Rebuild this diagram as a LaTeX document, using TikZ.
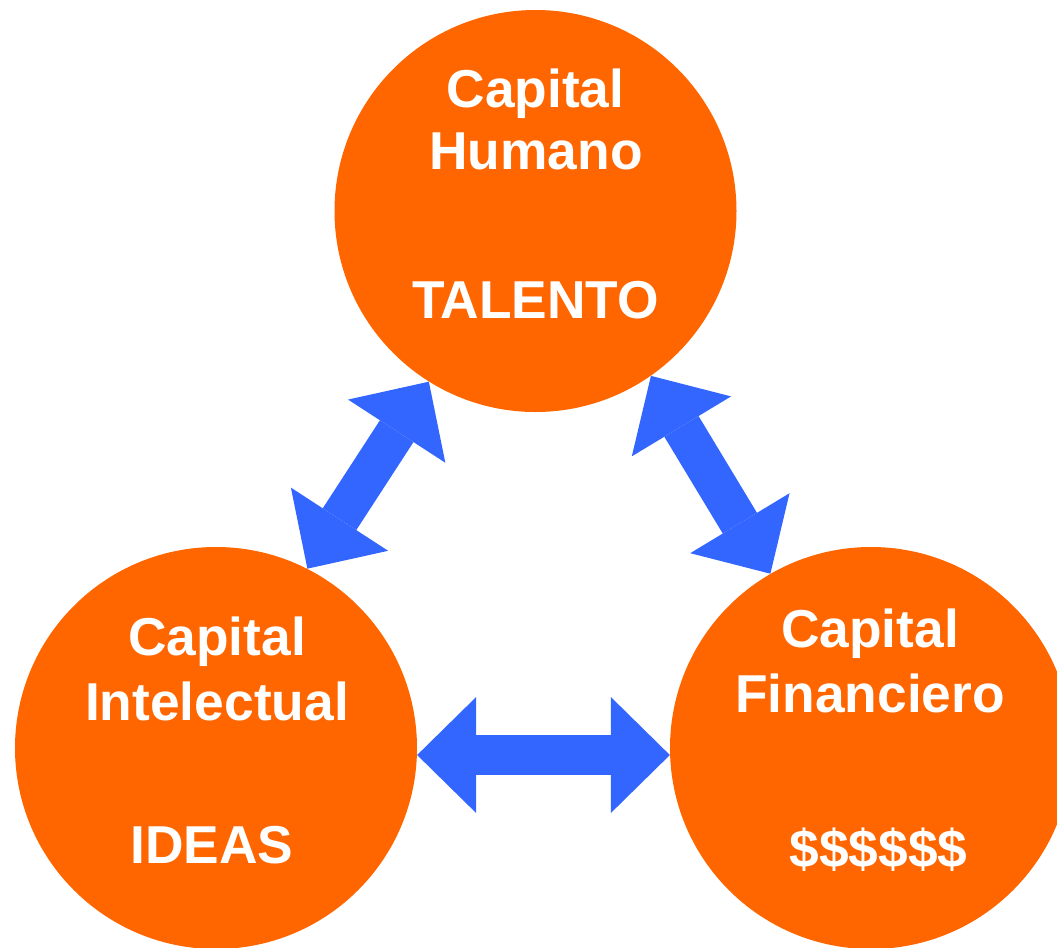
\documentclass[tikz,border=0pt]{standalone}
\usepackage{fontspec}
\setmainfont{Liberation Sans}
\usetikzlibrary{arrows.meta, positioning}
\definecolor{naranja}{RGB}{255,102,0}
\definecolor{azul}{RGB}{51,102,255}

\begin{document}
\begin{tikzpicture}[x=0.75pt, y=-0.75pt,
    capital/.style={circle, fill=naranja, inner sep=0pt, minimum size=301.5pt},
    texto/.style={anchor=base, text=white, font=\bfseries\fontsize{40}{48}\selectfont},
    flecha/.style={azul, line width=30pt, {Triangle[length=44.25pt, width=87pt, line width=0pt]}-{Triangle[length=44.25pt, width=87pt, line width=0pt]}}
]

\clip (0,0) rectangle (1057,947);

% los tres capitales
\node[capital] (humano) at (535.5,211) {};
\node[capital] (intelectual) at (216,748) {};
\node[capital] (financiero) at (871,748) {};

% textos (arriba)
\node[texto] (humano-1) at (535.5,107) {Capital};
\node[texto] (humano-2) at (536,169) {Humano};
\node[texto] (humano-3) at (535.5,318) {TALENTO};

% textos (izquierda)
\node[texto] (intelectual-1) at (217,655) {Capital};
\node[texto] (intelectual-2) at (217,720) {Intelectual};
\node[texto] (intelectual-3) at (212,863) {IDEAS};

% textos (derecha)
\node[texto] (financiero-1) at (870,647) {Capital};
\node[texto] (financiero-2) at (870,712) {Financiero};
\node[texto] (financiero-3) at (878.5,867) {\$\$\$\$\$\$};

% flechas dobles
\draw[flecha] (intelectual.63.6) -- (humano.238.9);
\draw[flecha] (humano.305.8) -- (financiero.120);
\draw[flecha] (intelectual.-2.3) -- (financiero.182.3);

\end{tikzpicture}
\end{document}
